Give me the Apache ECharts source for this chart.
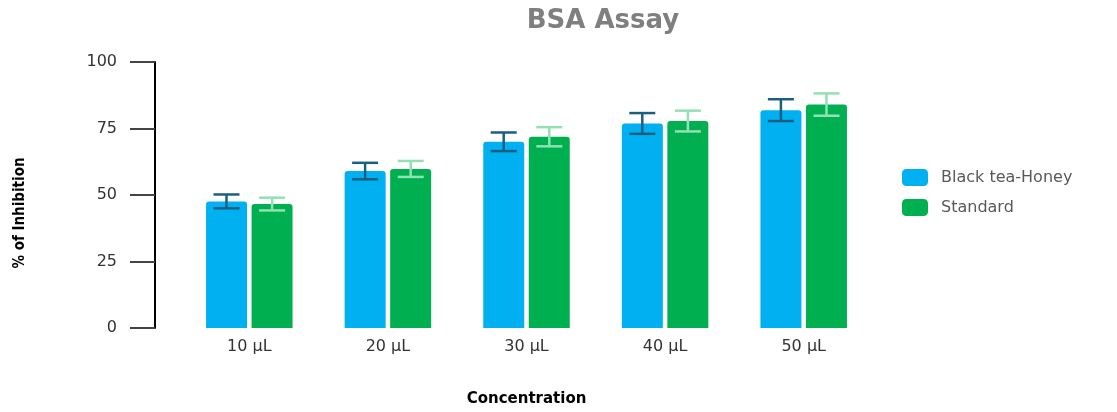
<!DOCTYPE html>
<html>
<head>
<meta charset="utf-8">
<script src="https://cdn.jsdelivr.net/npm/echarts@6/dist/echarts.min.js"></script>
<style>
  html, body { margin: 0; padding: 0; background: #fff; }
  #main { width: 1117px; height: 412px; }
</style>
</head>
<body>
<div id="main"></div>
<script>
// data
var categories = ['10 µL', '20 µL', '30 µL', '40 µL', '50 µL']
var teaHoney = [47.6, 59.0, 70.0, 76.9, 81.9]
var teaHoneyErr = [2.6, 3.1, 3.5, 3.9, 4.1]
var standard = [46.6, 59.8, 71.9, 77.8, 84.0]
var standardErr = [2.4, 3.0, 3.6, 3.9, 4.2]
var yTicks = [0, 25, 50, 75, 100]

var chart = echarts.init(document.getElementById('main'))

// error bars drawn as a custom series on top of each bar group
function errorSeries (name, values, errs, color, barIndex) {
  var data = values.map(function (v, i) { return [i, v - errs[i], v + errs[i]] })
  return {
    name: name + ' err',
    type: 'custom',
    z: 10,
    renderItem: function (params, api) {
      var idx = api.value(0)
      var lo = api.coord([idx, api.value(1)])
      var hi = api.coord([idx, api.value(2)])
      // two bars of 41px with a small gap, centred in the band
      var offset = (barIndex === 0 ? -1 : 1) * (41 / 2 + 2.3)
      var x = lo[0] + offset
      var half = 13
      var style = { stroke: color, lineWidth: 2.5 }
      return {
        type: 'group',
        children: [
          { type: 'line', shape: { x1: x, y1: lo[1], x2: x, y2: hi[1] }, style: style },
          { type: 'line', shape: { x1: x - half, y1: hi[1], x2: x + half, y2: hi[1] }, style: style },
          { type: 'line', shape: { x1: x - half, y1: lo[1], x2: x + half, y2: lo[1] }, style: style }
        ]
      }
    },
    encode: { x: 0, y: [1, 2] },
    data: data,
    silent: true
  }
}

chart.setOption({
  animation: false,
  textStyle: { fontFamily: 'DejaVu Sans' },
  title: {
    text: 'BSA Assay',
    left: 598,
    top: 3,
    textAlign: 'center',
    textStyle: { fontSize: 26, fontWeight: 'bold', color: '#7f7f7f', fontFamily: 'DejaVu Sans' }
  },
  legend: {
    orient: 'vertical',
    left: 897,
    top: 164,
    itemWidth: 26,
    itemHeight: 17,
    itemGap: 13,
    data: ['Black tea-Honey', 'Standard'],
    textStyle: { fontSize: 16, color: '#595959', fontFamily: 'DejaVu Sans', padding: [0, 0, 0, 8] }
  },
  // y axis title sits lower than the plot centre in the original
  graphic: [{
    type: 'text',
    x: 20,
    y: 213,
    rotation: Math.PI / 2,
    style: {
      text: '% of Inhibition',
      font: 'bold 15px "Liberation Sans Narrow", "DejaVu Sans Condensed", "Liberation Sans", sans-serif',
      fill: '#000',
      align: 'center',
      verticalAlign: 'middle'
    }
  }],
  grid: { left: 180, right: 1117 - 873, top: 62, bottom: 81 },
  xAxis: {
    type: 'category',
    data: categories,
    axisLine: { show: false },
    axisTick: { show: false },
    axisLabel: { fontSize: 16, color: '#333', margin: 11 },
    name: 'Concentration',
    nameLocation: 'middle',
    nameGap: 64,
    nameTextStyle: { fontSize: 15, fontWeight: 'bold', color: '#000', fontFamily: 'DejaVu Sans' }
  },
  yAxis: {
    type: 'value',
    min: yTicks[0],
    max: yTicks[yTicks.length - 1],
    interval: 25,
    offset: 25,
    splitLine: { show: false },
    axisLine: { show: true, lineStyle: { color: '#000', width: 2 } },
    axisTick: { show: true, length: 25, lineStyle: { color: '#444', width: 2 } },
    axisLabel: { fontSize: 16, color: '#333', margin: 38 }
  },
  series: [
    {
      name: 'Black tea-Honey',
      type: 'bar',
      data: teaHoney,
      barWidth: 41,
      barGap: '11%',
      itemStyle: { color: '#00b0f0', borderRadius: [3, 3, 0, 0] }
    },
    {
      name: 'Standard',
      type: 'bar',
      data: standard,
      barWidth: 41,
      barGap: '11%',
      itemStyle: { color: '#00b050', borderRadius: [3, 3, 0, 0] }
    },
    errorSeries('Black tea-Honey', teaHoney, teaHoneyErr, '#1a5f7f', 0),
    errorSeries('Standard', standard, standardErr, '#92e0b4', 1)
  ]
})
</script>
</body>
</html>
